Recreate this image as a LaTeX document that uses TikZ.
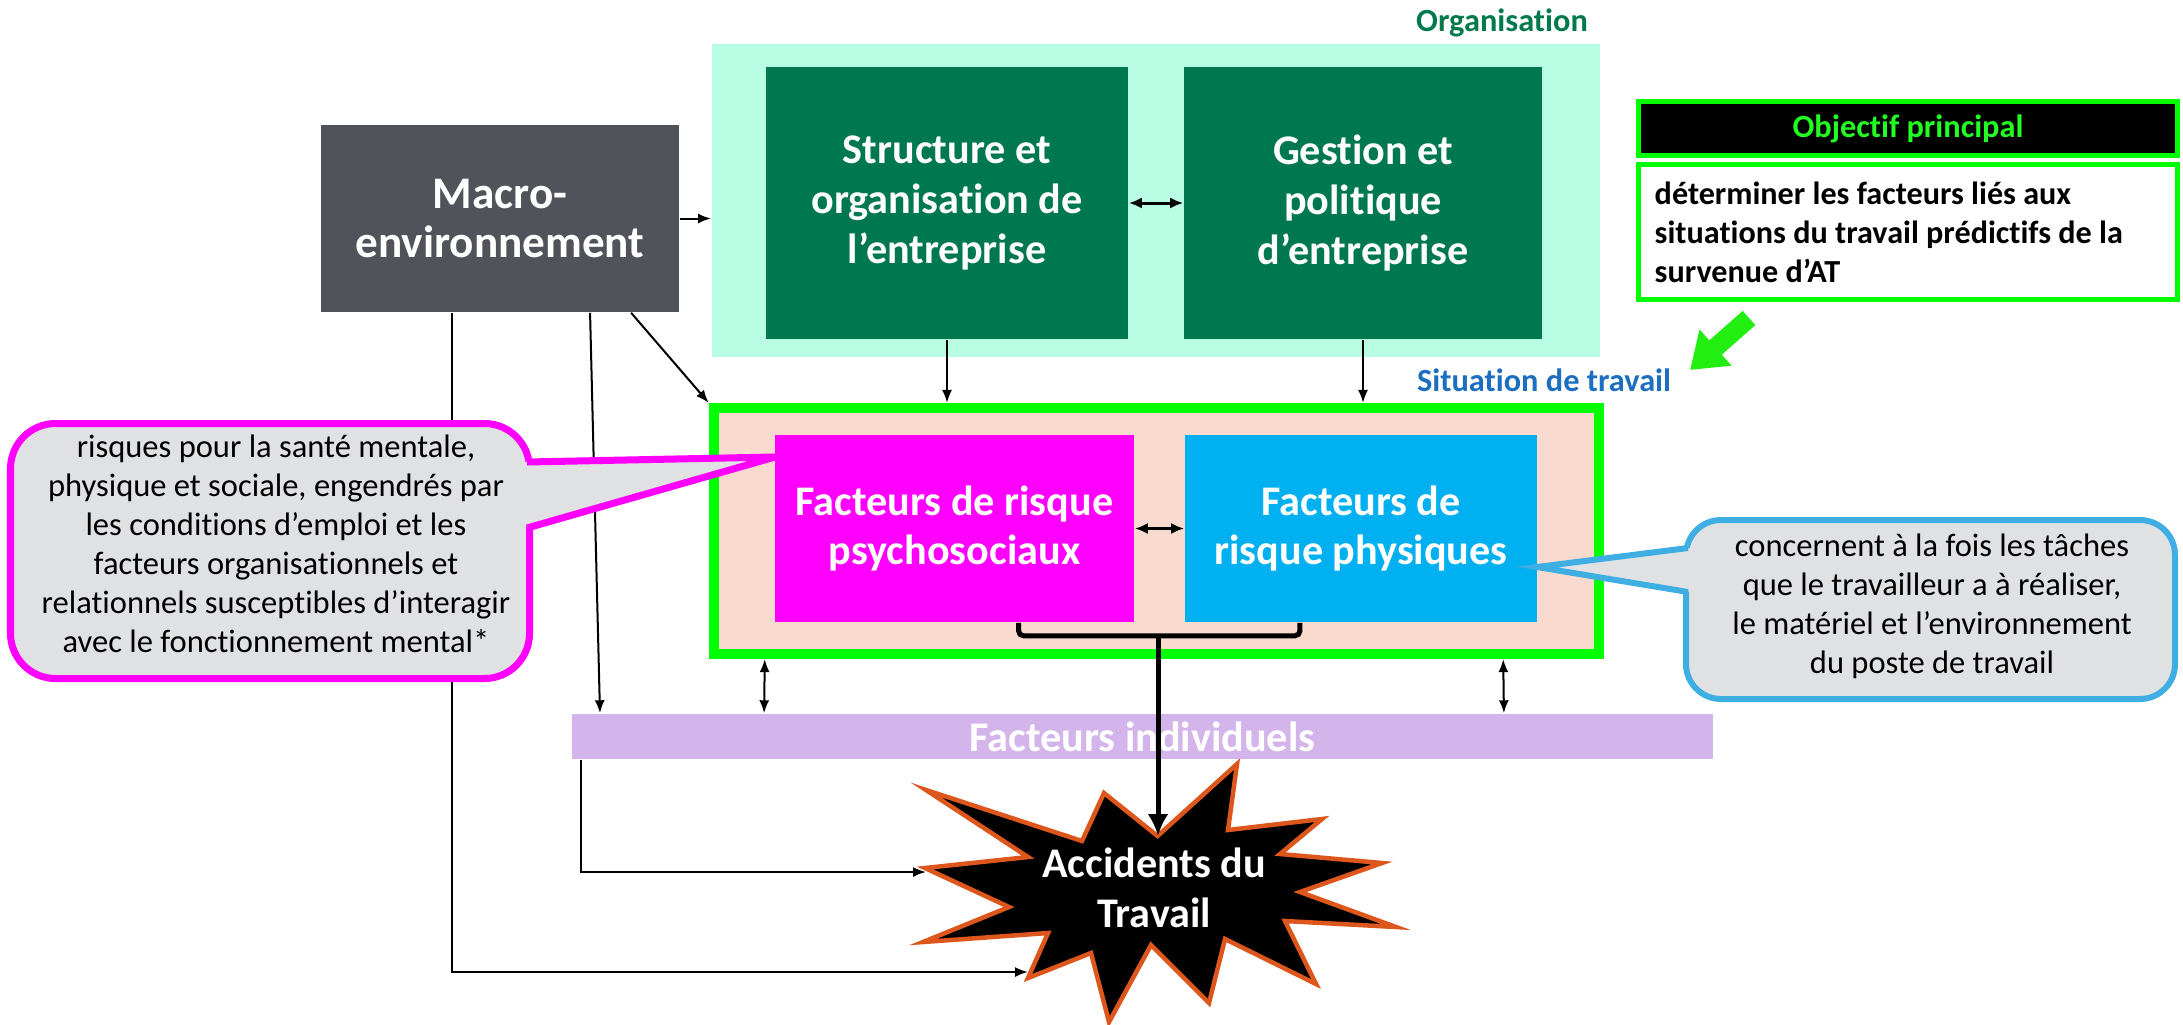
\documentclass[tikz,border=0pt]{standalone}
\usepackage{fontspec}
\setmainfont{Carlito}[Ligatures={TeX,NoCommon}]
\usetikzlibrary{arrows.meta,calc}

\definecolor{macrogrey}{HTML}{50535A}
\definecolor{orgdark}{HTML}{00784F}
\definecolor{orgbg}{HTML}{B8FCE4}
\definecolor{orglabel}{HTML}{007A4D}
\definecolor{sitlabel}{HTML}{1C6EC0}
\definecolor{neon}{HTML}{00FF00}
\definecolor{sitfill}{HTML}{F8DBCE}
\definecolor{psymag}{HTML}{FF00FF}
\definecolor{phycyan}{HTML}{00B0F0}
\definecolor{barlav}{HTML}{D3B5EC}
\definecolor{callgrey}{HTML}{E0E1E3}
\definecolor{callblue}{HTML}{3FAEE3}
\definecolor{starorange}{HTML}{DD561C}
\definecolor{arrowgreen}{HTML}{22EE11}
\definecolor{objtext}{HTML}{22FF22}

\begin{document}
\begin{tikzpicture}[x=0.01cm,y=-0.01cm,
  bigtxt/.style={font=\bfseries\fontsize{12}{14.2}\selectfont, text=white, align=center},
  labeltxt/.style={font=\bfseries\fontsize{9.2}{11}\selectfont},
  smallbold/.style={font=\bfseries\fontsize{9.15}{11.1}\selectfont},
  smallreg/.style={font=\fontsize{9.25}{11.1}\selectfont},
  box/.style={draw=none, inner sep=0pt, bigtxt},
  conn/.style={line width=0.02cm, -{Latex[length=0.13cm,width=0.1cm]}},
  dbl/.style={line width=0.03cm, {Latex[length=0.13cm,width=0.11cm]}-{Latex[length=0.13cm,width=0.11cm]}},
  dblthin/.style={line width=0.02cm, {Latex[length=0.13cm,width=0.1cm]}-{Latex[length=0.13cm,width=0.1cm]}},
  bracketline/.style={line width=0.05cm, rounded corners=0.05cm},
  stemarrow/.style={line width=0.05cm, -{Latex[length=0.22cm,width=0.21cm]}},
  calltxt/.style={smallreg, align=center, text=black, inner sep=0pt}
]
\useasboundingbox (0,0) rectangle (2183,1024);

% ---- Organisation block ----
\node[orglabel, labeltxt] (orglab) at (1502,23) {Organisation};
\node[fill=orgbg, minimum width=8.88cm, minimum height=3.13cm, inner sep=0pt] (orgbg) at (1156,200.5) {};
\node[box, fill=orgdark, minimum width=3.62cm, minimum height=2.72cm] (struct) at (947,203) {Structure et\\organisation de\\l’entreprise};
\node[box, fill=orgdark, minimum width=3.58cm, minimum height=2.72cm] (gestion) at (1363,203) {Gestion et\\politique\\d’entreprise};

% ---- Macro-environment ----
\node[box, fill=macrogrey, minimum width=3.58cm, minimum height=1.87cm,
      font=\bfseries\fontsize{12.85}{14.2}\selectfont] (macro) at (500,218.5) {Macro-\\environnement};

% ---- Main objective ----
\node[draw=neon, line width=0.05cm, fill=black, minimum width=5.39cm, minimum height=0.54cm, inner sep=0pt,
      text=objtext, labeltxt] (objhead) at (1908,128.5) {Objectif principal};
\node[draw=neon, line width=0.05cm, fill=white, minimum width=5.39cm, minimum height=1.35cm, inner sep=0pt] (objbody) at (1908,232) {};
\node[smallbold, anchor=west, align=left, inner sep=0pt] (objtext) at (1654,232)
  {déterminer les facteurs liés aux\\situations du travail prédictifs de la\\survenue d’AT};
\draw[arrowgreen, line width=0.19cm, -{Triangle[length=0.34cm,width=0.46cm]}] (1749,318) -- (1690,370);

% ---- Work situation ----
\node[text=sitlabel, labeltxt] (sitlab) at (1544,380) {Situation de travail};
\node[draw=neon, line width=0.1cm, fill=sitfill, minimum width=8.85cm, minimum height=2.46cm, inner sep=0pt] (sit) at (1156.5,531) {};
\node[box, fill=psymag, minimum width=3.59cm, minimum height=1.87cm] (psy) at (954.5,528.5) {Facteurs de risque\\psychosociaux};
\node[box, fill=phycyan, minimum width=3.52cm, minimum height=1.87cm] (phy) at (1361,528.5) {Facteurs de\\risque physiques};

% ---- Individual factors ----
\node[box, fill=barlav, minimum width=11.41cm, minimum height=0.45cm] (bar) at (1142.5,736.5) {Facteurs individuels};

% ---- Accidents star ----
\filldraw[fill=black, draw=starorange, line width=0.045cm, line join=miter]
  (926,790) -- (1082,841) -- (1104,793) -- (1157.5,836) -- (1237,764) -- (1228,830)
  -- (1322,819) -- (1280,854) -- (1382,863) -- (1300,892) -- (1396,927) -- (1285,921)
  -- (1316,984) -- (1225,939) -- (1209,1003) -- (1151,945) -- (1109,1022) -- (1091,953)
  -- (1028,978) -- (1048,933) -- (923,942) -- (1009,907) -- (925,868) -- (1028,857) -- cycle;
\node[bigtxt, inner sep=0pt] (acc) at (1154,888) {Accidents du\\Travail};
\coordinate (acctop) at (1158,836);
\coordinate (accleft) at (926,872);
\coordinate (acclow) at (1028,972);

% ---- Connectors ----
\draw[conn] (macro.east) -- (orgbg.west |- macro.east);
\draw[dbl] (struct.east) -- (gestion.west);
\draw[conn] (struct.south) -- (struct.south |- sit.north);
\draw[conn] (gestion.south) -- (gestion.south |- sit.north);
\draw[conn] ([xshift=1.31cm]macro.south) -- (sit.north west);
\draw[conn] ([xshift=-0.475cm]macro.south) |- (acclow);
\draw[conn] ([xshift=0.9cm]macro.south) -- ([xshift=0.29cm]bar.north west);
\draw[conn] ([xshift=0.1cm]bar.south west) |- (accleft);
\draw[dbl] (psy.east) -- (phy.west);
\draw[dblthin] ([xshift=0.56cm]sit.south west) -- ([xshift=1.93cm]bar.north west);
\draw[dblthin] ([xshift=-1.01cm]sit.south east) -- ([xshift=-2.10cm]bar.north east);
\draw[bracketline] ([xshift=0.64cm]psy.south) -- ++(0,13) -| ([xshift=-0.61cm]phy.south);
\coordinate (brk) at (1158,635);
\draw[stemarrow] (brk) -- (acctop);

% ---- Callout: psychosocial ----
\draw[draw=psymag, fill=callgrey, line width=0.07cm, rounded corners=0.45cm] (10.5,423.5) rectangle (529.5,678.5);
\coordinate (tipL) at (775,457);
\fill[callgrey] (522,462) -- (tipL) -- (522,528) -- cycle;
\draw[psymag, line width=0.07cm, line join=miter] (527,462) -- (tipL) -- (527,528);
\node[calltxt] (calL) at (276,544) {risques pour la santé mentale,\\physique et sociale, engendrés par\\les conditions d’emploi et les\\facteurs organisationnels et\\relationnels susceptibles d’interagir\\avec le fonctionnement mental*};

% ---- Callout: physical ----
\draw[draw=callblue, fill=callgrey, line width=0.06cm, rounded corners=0.35cm] (1686,520) rectangle (2175,699);
\coordinate (tipR) at (1537,567);
\fill[callgrey] (1692,548) -- (tipR) -- (1692,592) -- cycle;
\draw[callblue, line width=0.06cm, line join=miter] (1688,548) -- (tipR) -- (1688,592);
\node[calltxt] (calR) at (1932,606.5) {concernent à la fois les tâches\\que le travailleur a à réaliser,\\le matériel et l’environnement\\du poste de travail};

\end{tikzpicture}
\end{document}
